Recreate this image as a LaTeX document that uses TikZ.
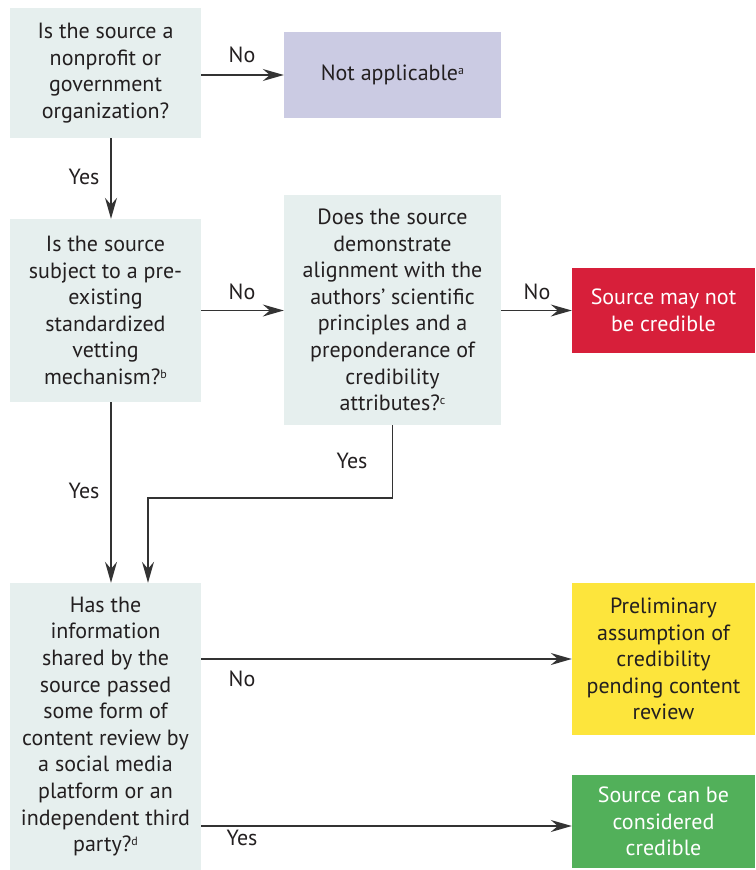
\documentclass[tikz,border=0pt]{standalone}
\usepackage{fontspec}
\setmainfont{PT Sans}
\usetikzlibrary{arrows.meta}
\definecolor{boxgray}{HTML}{E6EFEE}
\definecolor{lav}{HTML}{CBCBE3}
\definecolor{credred}{HTML}{D71F3A}
\definecolor{credyel}{HTML}{FDE53C}
\definecolor{credgrn}{HTML}{52B05A}
\definecolor{txt}{HTML}{231F20}
\definecolor{linec}{HTML}{333333}
\tikzset{
  box/.style={fill=#1, inner sep=0pt, align=center, text=txt,
    font=\fontsize{22}{26.6}\selectfont},
  box/.default=boxgray,
  lbl/.style={text=txt, inner sep=0pt, font=\fontsize{22}{24}\selectfont},
  arr/.style={draw=linec, line width=1.4pt, -{Stealth[length=21pt,width=12pt,inset=7pt]}},
}
\newcommand{\sps}[1]{\raisebox{0.55ex}{\fontsize{12}{12}\selectfont #1}}
\begin{document}
\begin{tikzpicture}[x=1pt,y=-1pt]
\useasboundingbox (0,0) rectangle (755,870);
\node[box, minimum width=191pt, minimum height=130pt] (b1) at (105.5,73)
  {Is the source a\\nonprofit or\\government\\organization?};
\node[box=lav, minimum width=217pt, minimum height=86pt] (na) at (392.5,75)
  {Not applicable\sps{a}};
\node[box, minimum width=191pt, minimum height=183pt] (b2) at (105.5,310.5)
  {Is the source\\subject to a pre-\\existing\\standardized\\vetting\\mechanism?\sps{b}};
\node[box, minimum width=217pt, minimum height=230pt] (b3) at (392.5,310)
  {Does the source\\demonstrate\\alignment with the\\authors' scientific\\principles and a\\preponderance of\\credibility\\attributes?\sps{c}};
\node[box=credred, text=white, minimum width=183pt, minimum height=85pt] (red) at (663.5,310.5)
  {Source may not\\be credible};
\node[box, minimum width=191pt, minimum height=287pt] (b4) at (105.5,726.5)
  {Has the\\information\\shared by the\\source passed\\some form of\\content review by\\a social media\\platform or an\\independent third\\party?\sps{d}};
\node[box=credyel, minimum width=183pt, minimum height=152pt] (yel) at (663.5,659)
  {Preliminary\\assumption of\\credibility\\pending content\\review};
\node[box=credgrn, text=white, minimum width=183pt, minimum height=93pt] (grn) at (663.5,821.5)
  {Source can be\\considered\\credible};
% connectors
\draw[arr] (b1.east |- na.west) -- (na.west);
\node[lbl] (l1) at (242,55) {No};
\draw[arr] ([xshift=5.5pt]b1.south) -- ([xshift=5.5pt]b2.north);
\node[lbl] (l2) at (84,177) {Yes};
\draw[arr] (b2.east) -- (b2.east -| b3.west);
\node[lbl] (l3) at (242,292) {No};
\draw[arr] (b3.east |- red.west) -- (red.west);
\node[lbl] (l4) at (537,292) {No};
\draw[arr] ([xshift=5.5pt]b2.south) -- ([xshift=5.5pt]b4.north);
\node[lbl] (l5) at (84,491) {Yes};
\coordinate (j) at (148,498);
\draw[arr] (b3.south) |- (j) -- (j |- b4.north);
\node[lbl] (l6) at (352,461) {Yes};
\draw[arr] (b4.east |- yel.west) -- (yel.west);
\node[lbl] (l7) at (242,679) {No};
\coordinate (g) at (201,826);
\draw[arr] (g) -- (g -| grn.west);
\node[lbl] (l8) at (242,838) {Yes};
\end{tikzpicture}
\end{document}
